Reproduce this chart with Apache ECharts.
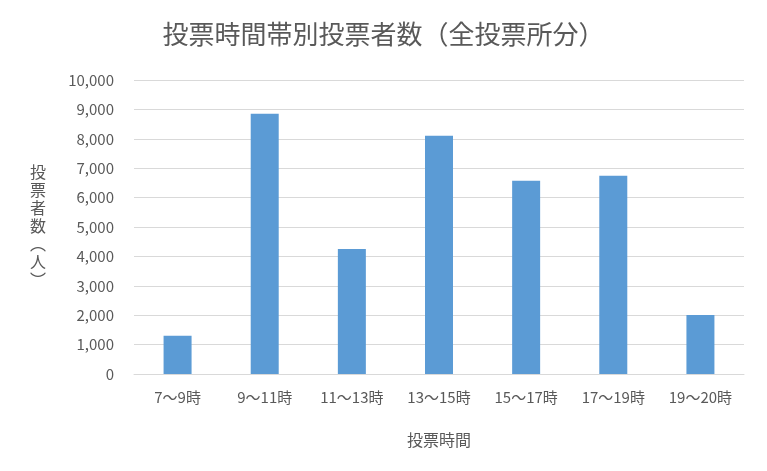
<!DOCTYPE html>
<html><head><meta charset="utf-8">
<script src="https://cdn.jsdelivr.net/npm/echarts@6/dist/echarts.min.js"></script>
<style>html,body{margin:0;padding:0;background:#fff}#c{width:767px;height:471px}</style>
</head><body><div id="c"></div>
<script>
const categories = ['7～9時','9～11時','11～13時','13～15時','15～17時','17～19時','19～20時'];
const voters = [1300, 8850, 4250, 8100, 6570, 6740, 2010];
const yTicks = [0, 10000, 1000];
const chart = echarts.init(document.getElementById('c'));
const font = '"Noto Sans CJK JP", sans-serif';
chart.setOption({
  animation:false,
  title:{text:'投票時間帯別投票者数（全投票所分）',left:'center',top:16,
    textStyle:{fontFamily:font,fontSize:26,fontWeight:'normal',color:'#595959'}},
  graphic:[{type:'text',left:30,top:163,style:{text:'投\n票\n者\n数\n︵\n人\n︶',font:'16px '+font,fill:'#595959',lineHeight:18}}],
  grid:{left:134,right:23,top:80,bottom:97},
  xAxis:{type:'category',data:categories,name:'投票時間',nameLocation:'middle',nameGap:58,
    nameTextStyle:{fontFamily:font,fontSize:16,color:'#595959'},
    axisLine:{lineStyle:{color:'#d9d9d9'}},axisTick:{show:false},
    axisLabel:{fontFamily:font,fontSize:15,color:'#595959',margin:16}},
  yAxis:{type:'value',min:yTicks[0],max:yTicks[1],interval:yTicks[2],
    axisLine:{show:false},axisTick:{show:false},
    splitLine:{lineStyle:{color:'#d9d9d9'}},
    axisLabel:{fontFamily:font,fontSize:15,color:'#595959',margin:20,
      formatter:v=>v.toLocaleString('en-US')}},
  series:[{type:'bar',data:voters,barWidth:28,itemStyle:{color:'#5B9BD5'}}]
});
</script></body></html>
